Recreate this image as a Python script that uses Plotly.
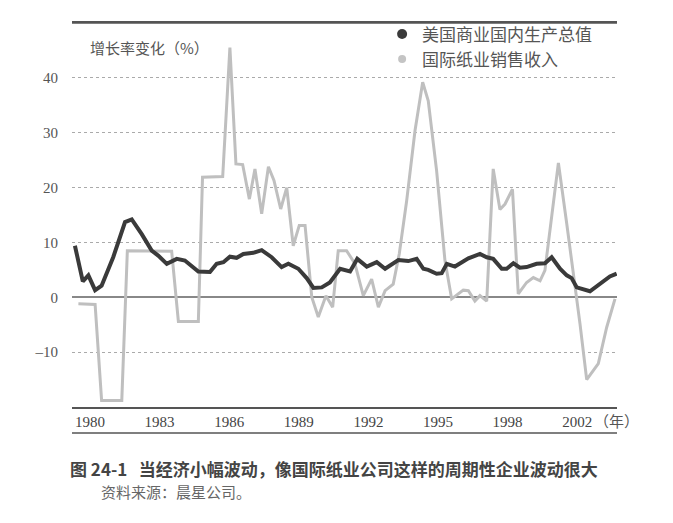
import plotly.graph_objects as go

# 美国商业国内生产总值 (增长率 %)
gdp_year = [1979.35, 1979.69, 1979.93, 1980.22, 1980.50, 1981.00, 1981.51, 1981.80, 1982.23, 1982.66,
            1982.94, 1983.31, 1983.74, 1984.09, 1984.67, 1985.17, 1985.46, 1985.75, 1986.03, 1986.32,
            1986.61, 1987.04, 1987.40, 1987.83, 1988.26, 1988.55, 1988.98, 1989.34, 1989.63, 1989.99,
            1990.34, 1990.78, 1991.21, 1991.52, 1991.93, 1992.36, 1992.72, 1993.29, 1993.72, 1994.08,
            1994.37, 1994.58, 1994.94, 1995.16, 1995.38, 1995.73, 1996.31, 1996.81, 1997.10, 1997.38,
            1997.75, 1997.96, 1998.25, 1998.53, 1998.82, 1999.25, 1999.61, 1999.90, 2000.26, 2000.55,
            2000.76, 2000.98, 2001.55, 2001.98, 2002.41, 2002.70]
gdp_growth = [9.4, 2.9, 4.0, 1.3, 2.1, 7.3, 13.7, 14.2, 11.5, 8.5,
              7.6, 6.1, 7.0, 6.7, 4.7, 4.6, 6.1, 6.4, 7.4, 7.2,
              7.9, 8.1, 8.6, 7.3, 5.5, 6.1, 5.2, 3.5, 1.7, 1.8,
              2.7, 5.2, 4.7, 7.0, 5.6, 6.4, 5.2, 6.8, 6.6, 7.0,
              5.2, 5.0, 4.3, 4.4, 6.1, 5.6, 7.1, 7.9, 7.3, 7.0,
              5.2, 5.2, 6.2, 5.4, 5.5, 6.1, 6.2, 7.3, 5.2, 4.0,
              3.5, 1.8, 1.1, 2.5, 3.8, 4.3]

# 国际纸业销售收入 (增长率 %)
ip_year = [1979.50, 1980.22, 1980.50, 1981.37, 1981.61, 1983.52, 1983.81, 1984.67, 1984.85, 1985.72,
           1986.03, 1986.29, 1986.58, 1986.87, 1987.11, 1987.40, 1987.69, 1987.93, 1988.22, 1988.48,
           1988.76, 1989.02, 1989.27, 1989.56, 1989.84, 1990.17, 1990.46, 1990.70, 1991.06, 1991.42,
           1991.78, 1992.14, 1992.43, 1992.72, 1993.07, 1993.33, 1993.65, 1994.01, 1994.34, 1994.58,
           1994.94, 1995.30, 1995.59, 1996.09, 1996.31, 1996.59, 1996.81, 1997.10, 1997.38, 1997.67,
           1997.89, 1998.21, 1998.46, 1998.82, 1999.11, 1999.40, 1999.61, 2000.19, 2000.55, 2000.91,
           2001.12, 2001.41, 2001.91, 2002.27, 2002.63]
ip_growth = [-1.2, -1.3, -18.8, -18.8, 8.5, 8.4, -4.4, -4.4, 21.9, 22.0,
             45.5, 24.3, 24.2, 17.9, 23.4, 15.2, 23.8, 21.3, 16.1, 20.0,
             9.4, 13.1, 13.1, 0.0, -3.6, 0.3, -1.8, 8.5, 8.5, 6.1,
             0.3, 3.3, -1.8, 1.2, 2.4, 7.9, 17.6, 30.4, 39.2, 35.8,
             23.1, 6.7, -0.3, 1.3, 1.2, -0.7, 0.3, -0.7, 23.4, 16.0,
             17.0, 19.7, 0.6, 2.7, 3.6, 3.0, 4.9, 24.5, 13.4, 2.4,
             -4.8, -15.0, -12.1, -5.5, -0.3]

x_tickvals = [1980, 1983, 1986, 1989, 1992, 1995, 1998, 2001]
x_ticktext = ['1980', '1983', '1986', '1989', '1992', '1995', '1998', '2002']
y_tickvals = [-10, 0, 10, 20, 30, 40]
y_ticktext = ['–10', '0', '10', '20', '30', '40']

serif = 'Liberation Serif, Noto Sans CJK SC'
cjk = 'Noto Sans CJK SC'

fig = go.Figure()
fig.add_trace(go.Scatter(x=ip_year, y=ip_growth, mode='lines', showlegend=False,
                         line=dict(color='#bfbfbf', width=3)))
fig.add_trace(go.Scatter(x=gdp_year, y=gdp_growth, mode='lines', showlegend=False,
                         line=dict(color='#3a3a3a', width=4)))
# 图例只用圆点
fig.add_trace(go.Scatter(x=[None], y=[None], mode='markers', name='美国商业国内生产总值',
                         marker=dict(color='#3a3a3a', size=10)))
fig.add_trace(go.Scatter(x=[None], y=[None], mode='markers', name='国际纸业销售收入',
                         marker=dict(color='#c4c4c4', size=8)))

# 页面 body 自带 8px 边距，所以整体尺寸减小 8px
fig.update_layout(
    width=665, height=515,
    margin=dict(l=64, r=56, t=15, b=116, autoexpand=False),
    paper_bgcolor='white', plot_bgcolor='white',
    font=dict(family=serif, color='#555555', size=14),
    legend=dict(x=0.569, y=1.017, xanchor='left', yanchor='top', bgcolor='rgba(0,0,0,0)',
                font=dict(family=cjk, size=17, color='#555555'), itemwidth=30,
                tracegroupgap=0),
    xaxis=dict(range=[1979.224, 2002.716], tickvals=x_tickvals, ticktext=x_ticktext,
               showgrid=False, zeroline=False, showline=True, mirror=True,
               linecolor='#555555', linewidth=1.5, ticks='',
               tickfont=dict(family=serif, size=15, color='#444444')),
    yaxis=dict(range=[-20, 50], tickvals=y_tickvals, ticktext=y_ticktext,
               showgrid=True, gridcolor='#aaaaaa', gridwidth=1, griddash='dot',
               zeroline=True, zerolinecolor='#888888', zerolinewidth=1.5,
               showline=False, ticks='', ticklabelstandoff=13,
               tickfont=dict(family=serif, size=15, color='#555555')),
    shapes=[dict(type='line', xref='paper', yref='paper', x0=0, x1=1, y0=-0.068, y1=-0.068,
                 line=dict(color='#555555', width=1.5)),
            dict(type='line', xref='paper', yref='paper', x0=0, x1=1, y0=1, y1=1,
                 line=dict(color='#555555', width=1.5))],
    annotations=[
        dict(text='增长率变化（%）', xref='paper', yref='paper', x=0.03, y=0.935,
             xanchor='left', yanchor='middle', showarrow=False,
             font=dict(family=cjk, size=15, color='#555555')),
        dict(text='（年）', xref='paper', yref='paper', x=0.955, y=-0.034,
             xanchor='left', yanchor='middle', showarrow=False,
             font=dict(family=cjk, size=15, color='#555555')),
        dict(text='<b>图 24-1   当经济小幅波动，像国际纸业公司这样的周期性企业波动很大</b>',
             xref='paper', yref='paper', x=-0.008, y=-0.16,
             xanchor='left', yanchor='middle', showarrow=False,
             font=dict(family=cjk, size=17, color='#444444')),
        dict(text='资料来源：晨星公司。', xref='paper', yref='paper', x=0.05, y=-0.22,
             xanchor='left', yanchor='middle', showarrow=False,
             font=dict(family=cjk, size=15, color='#666666')),
    ],
)

fig.write_html('out.html')
